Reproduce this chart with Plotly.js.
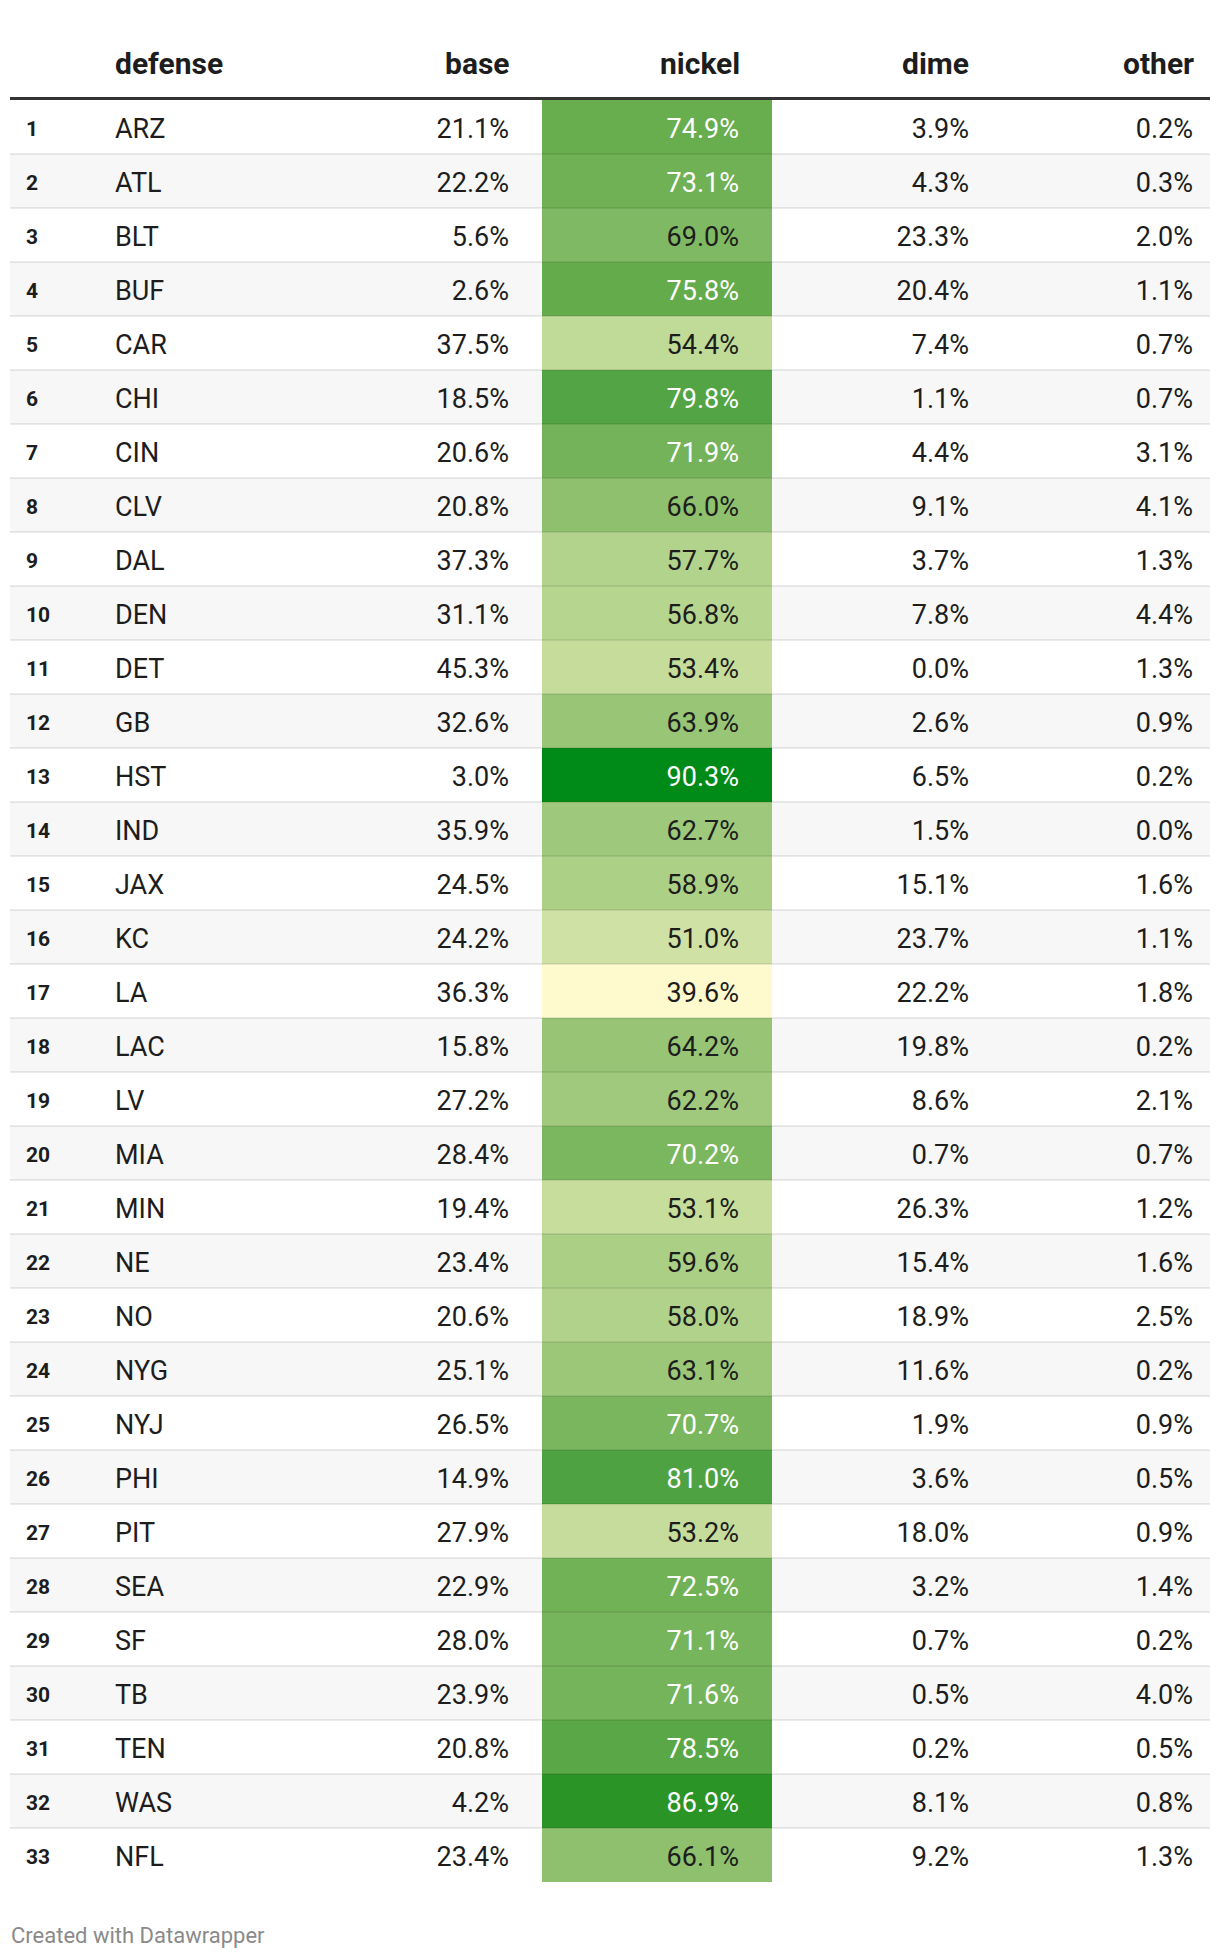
<!DOCTYPE html>
<html>
<head>
<meta charset="utf-8">
<script src="https://cdn.plot.ly/plotly-3.0.1.min.js"></script>
<style>
  html, body { margin: 0; padding: 0; background: #fff; }
  #table { width: 1220px; height: 1958px; }
</style>
</head>
<body>
<div id="table"></div>
<script>
const teams = ['ARZ', 'ATL', 'BLT', 'BUF', 'CAR', 'CHI', 'CIN', 'CLV', 'DAL', 'DEN', 'DET', 'GB', 'HST', 'IND', 'JAX', 'KC', 'LA',
    'LAC', 'LV', 'MIA', 'MIN', 'NE', 'NO', 'NYG', 'NYJ', 'PHI', 'PIT', 'SEA', 'SF', 'TB', 'TEN', 'WAS', 'NFL'];
const base = [21.1, 22.2, 5.6, 2.6, 37.5, 18.5, 20.6, 20.8, 37.3, 31.1, 45.3, 32.6, 3.0, 35.9, 24.5, 24.2, 36.3,
    15.8, 27.2, 28.4, 19.4, 23.4, 20.6, 25.1, 26.5, 14.9, 27.9, 22.9, 28.0, 23.9, 20.8, 4.2, 23.4];
const nickel = [74.9, 73.1, 69.0, 75.8, 54.4, 79.8, 71.9, 66.0, 57.7, 56.8, 53.4, 63.9, 90.3, 62.7, 58.9, 51.0, 39.6,
    64.2, 62.2, 70.2, 53.1, 59.6, 58.0, 63.1, 70.7, 81.0, 53.2, 72.5, 71.1, 71.6, 78.5, 86.9, 66.1];
const dime = [3.9, 4.3, 23.3, 20.4, 7.4, 1.1, 4.4, 9.1, 3.7, 7.8, 0.0, 2.6, 6.5, 1.5, 15.1, 23.7, 22.2,
    19.8, 8.6, 0.7, 26.3, 15.4, 18.9, 11.6, 1.9, 3.6, 18.0, 3.2, 0.7, 0.5, 0.2, 8.1, 9.2];
const other = [0.2, 0.3, 2.0, 1.1, 0.7, 0.7, 3.1, 4.1, 1.3, 4.4, 1.3, 0.9, 0.2, 0.0, 1.6, 1.1, 1.8,
    0.2, 2.1, 0.7, 1.2, 1.6, 2.5, 0.2, 0.9, 0.5, 0.9, 1.4, 0.2, 4.0, 0.5, 0.8, 1.3];
const headers = ['defense', 'base', 'nickel', 'dime', 'other'];

const W = 1220, H = 1958;
const rowTop = 100, rowH = 54;
const left = 10, right = 1210;
const textNudge = 4; // plotly's "middle" sits a bit high
const font = 'Roboto, "Noto Sans", sans-serif';
const ink = '#1d1d1d';

const ranks = teams.map((_, i) => i + 1);
const rowEdges = [0].concat(ranks).map(k => rowTop + rowH * k);
const textY = ranks.map(r => rowTop + rowH * (r - 0.5) + textNudge);
const pct = v => v.toFixed(1) + '%';

// datawrapper-ish yellow -> green gradient
const zMin = Math.min(...nickel), zMax = Math.max(...nickel);
const stops = [[39.6, '#fff9ce'], [51.0, '#cfe1a4'], [56.8, '#b6d58e'], [62.7, '#9ec87b'], [69.0, '#80b963'],
    [74.9, '#68ad4e'], [81.0, '#4ea241'], [86.9, '#2a9427'], [90.3, '#008a17']];
const colorscale = stops.map(([v, c]) => [(v - zMin) / (zMax - zMin), c]);

const traces = [];

// zebra stripes (heatmap so the nickel column can sit on top of it)
traces.push({
    type: 'heatmap',
    x: [left, right],
    y: rowEdges,
    z: ranks.map(r => [r % 2]),
    zmin: 0, zmax: 1,
    colorscale: [[0, '#f7f7f7'], [1, '#ffffff']],
    showscale: false, zsmooth: false,
    hoverinfo: 'skip'
});

// nickel heat column
traces.push({
    type: 'heatmap',
    x: [542, 772],
    y: rowEdges,
    z: nickel.map(v => [v]),
    zmin: zMin, zmax: zMax,
    colorscale: colorscale,
    showscale: false, zsmooth: false,
    hoverinfo: 'skip'
});

// row separators
const sepX = [], sepY = [];
rowEdges.slice(1, -1).forEach(y => {
    sepX.push(left, right, null);
    sepY.push(y, y, null);
});
traces.push({
    type: 'scatter', mode: 'lines', x: sepX, y: sepY,
    line: { color: 'rgba(0,0,0,0.08)', width: 2 }, hoverinfo: 'skip'
});

// header rule
traces.push({
    type: 'scatter', mode: 'lines', x: [left, right], y: [rowTop - 1.5, rowTop - 1.5],
    line: { color: '#333333', width: 3 }, hoverinfo: 'skip'
});

function textCol(x, text, pos, opts) {
    return Object.assign({
        type: 'scatter', mode: 'text',
        x: textY.map(() => x), y: textY,
        text: text, textposition: pos,
        textfont: { family: font, size: 27, color: ink },
        hoverinfo: 'skip', cliponaxis: false
    }, opts || {});
}

traces.push(textCol(26, ranks.map(String), 'middle right',
    { textfont: { family: font, size: 21, color: ink, weight: 700 } }));
traces.push(textCol(115, teams, 'middle right'));
traces.push(textCol(509, base.map(pct), 'middle left'));
traces.push(textCol(739, nickel.map(pct), 'middle left',
    { textfont: { family: font, size: 27, color: nickel.map(v => v >= 70 ? '#ffffff' : ink) } }));
traces.push(textCol(969, dime.map(pct), 'middle left'));
traces.push(textCol(1193, other.map(pct), 'middle left'));

// annotations carry a little padding, so nudge the right-aligned headers out
const headX = [113, 512, 742, 971, 1196];
const annotations = headers.map((h, i) => ({
    text: h, x: headX[i], y: 63, xref: 'x', yref: 'y',
    xanchor: i === 0 ? 'left' : 'right', yanchor: 'middle', showarrow: false,
    font: { family: font, size: 30, color: ink, weight: 700 }
}));
annotations.push({
    text: 'Created with Datawrapper', x: left - 1, y: 1935, xref: 'x', yref: 'y',
    xanchor: 'left', yanchor: 'middle', showarrow: false,
    font: { family: font, size: 22, color: '#8a8a8a' }
});

const layout = {
    width: W, height: H,
    margin: { l: 0, r: 0, t: 0, b: 0, pad: 0 },
    paper_bgcolor: '#ffffff', plot_bgcolor: '#ffffff',
    showlegend: false, hovermode: false,
    xaxis: { range: [0, W], visible: false, fixedrange: true },
    yaxis: { range: [H, 0], visible: false, fixedrange: true },
    annotations: annotations
};

Plotly.newPlot('table', traces, layout, { displayModeBar: false, staticPlot: true });
</script>
</body>
</html>
